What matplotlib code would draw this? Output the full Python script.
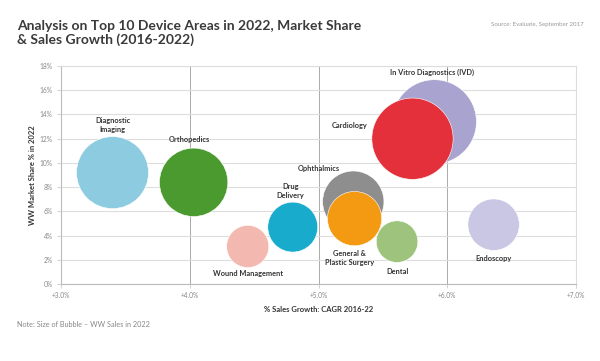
import matplotlib.pyplot as plt

# device areas, 2022
areas = ["In Vitro Diagnostics (IVD)", "Cardiology", "Diagnostic\nImaging", "Orthopedics",
         "Ophthalmics", "General &\nPlastic Surgery", "Drug\nDelivery", "Wound Management",
         "Dental", "Endoscopy"]
cagr = [5.90, 5.73, 3.40, 4.03, 5.27, 5.28, 4.80, 4.45, 5.61, 6.36]      # % sales growth 2016-22
share = [13.4, 12.0, 9.2, 8.4, 6.8, 5.4, 4.7, 3.1, 3.5, 4.9]           # WW market share % 2022
sales = [69.5, 65.0, 51.0, 46.0, 37.0, 29.0, 24.5, 17.5, 17.0, 26.0]   # WW sales $bn 2022

colors = ["#a9a3cf", "#e3303b", "#8dcbe0", "#4b9a2f", "#8e8e8e",
          "#f39a12", "#19abcb", "#f3b9b0", "#9dc37d", "#cac7e5"]

# label anchor (x, y) in data units
label_pos = [(5.88, 17.5), (5.24, 13.1), (3.40, 13.1), (4.00, 11.9), (5.00, 9.5),
             (5.24, 2.15), (4.78, 7.7), (4.45, 0.83), (5.61, 1.07), (6.36, 2.07)]

fig = plt.figure(figsize=(6, 3.61), dpi=100)
ax = fig.add_axes([0.1017, 0.2133, 0.8583, 0.6037])

ax.scatter(cagr, share, s=[v * 52.7 for v in sales], c=colors,
           edgecolors="white", linewidths=0.4, zorder=3)

for name, (lx, ly) in zip(areas, label_pos):
    ax.text(lx, ly, name, ha="center", va="center", fontsize=5.3,
            fontweight="bold", color="#333333", family="Lato", zorder=4,
            linespacing=1.3)

ax.set_xlim(3, 7)
ax.set_ylim(0, 18)
ax.set_xticks([3, 4, 5, 6, 7])
ax.set_xticklabels(["+3.0%", "+4.0%", "+5.0%", "+6.0%", "+7.0%"])
ax.set_yticks(range(0, 19, 2))
ax.set_yticklabels([f"{v}%" for v in range(0, 19, 2)])
ax.tick_params(labelsize=4.8, labelcolor="#888888", length=3, width=0.6,
               color="#cccccc", pad=3)
for lab in ax.get_xticklabels() + ax.get_yticklabels():
    lab.set_family("Lato")

ax.grid(axis="y", color="#dddddd", linewidth=0.8, zorder=0)
ax.grid(axis="x", color="#aaaaaa", linewidth=0.7, zorder=0)
for side in ["top", "right"]:
    ax.spines[side].set_color("#dddddd")
for side in ["left", "bottom"]:
    ax.spines[side].set_color("#bbbbbb")
ax.set_axisbelow(True)

ax.set_ylabel("WW Market Share % in 2022", fontsize=5.5, fontweight="bold",
              color="#333333", family="Lato", labelpad=2.5)
ax.set_xlabel("% Sales Growth: CAGR 2016-22", fontsize=5.5, fontweight="bold",
              color="#333333", family="Lato", labelpad=5)

fig.text(0.028, 0.944, "Analysis on Top 10 Device Areas in 2022, Market Share\n& Sales Growth (2016-2022)",
         ha="left", va="top", fontsize=10, fontweight="bold", color="#3a3a3a",
         family="Lato", linespacing=1.15)
fig.text(0.972, 0.931, "Source: Evaluate, September 2017", ha="right", va="center",
         fontsize=4.4, color="#999999", family="Lato")
fig.text(0.028, 0.1, "Note: Size of Bubble \u2013 WW Sales in 2022", ha="left", va="center",
         fontsize=5.2, color="#888888", family="Lato")

fig.savefig("out.png", dpi=100)
